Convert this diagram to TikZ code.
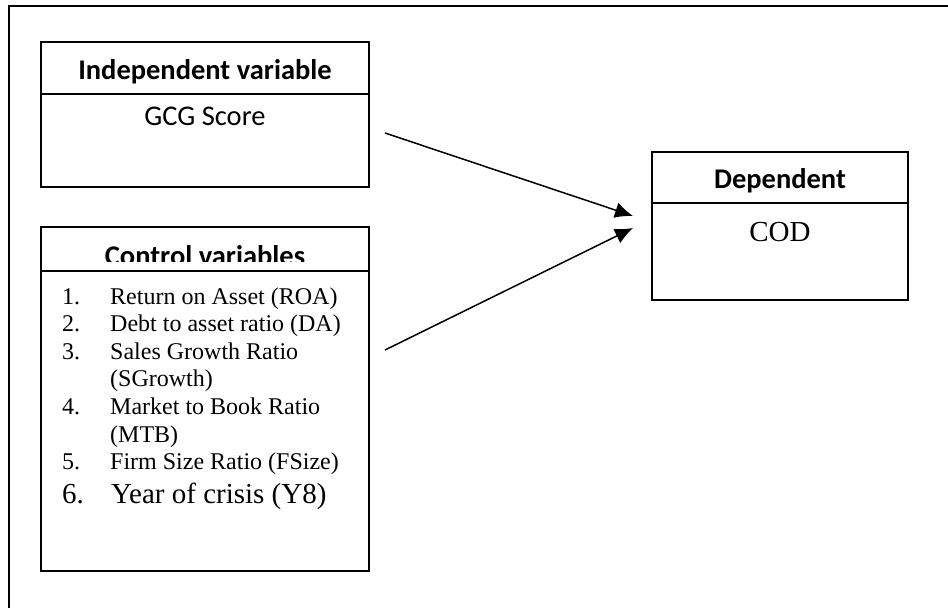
\documentclass[tikz,border=0pt]{standalone}
\usepackage{fontspec}
\setmainfont{Liberation Serif}
\newfontfamily\calibri{Carlito}
\usetikzlibrary{arrows.meta}

\tikzset{
  box/.style={draw,line width=1.5bp,rectangle,inner sep=0pt},
  headtext/.style={font=\calibri\bfseries\fontsize{28.5bp}{30bp}\selectfont,anchor=base,inner sep=0pt},
  bodytext/.style={font=\calibri\fontsize{28.5bp}{30bp}\selectfont,anchor=base,inner sep=0pt},
  listtext/.style={font=\fontsize{24bp}{27bp}\selectfont,anchor=base west,inner sep=0pt},
  bigtext/.style={font=\fontsize{29bp}{32bp}\selectfont,anchor=base west,inner sep=0pt},
  link/.style={->,line width=1.5bp},
}

\begin{document}
\begin{tikzpicture}[>={Latex[length=18bp,width=16bp]},line join=miter]
\useasboundingbox (0bp,0bp) rectangle (948bp,608bp);
%% frame
\draw [line width=2bp] (948bp,602bp) -| (8.5bp,0bp);
%% boxes
\node (indep_head) at (205bp,540bp) [box,minimum width=328bp,minimum height=52bp] {};
  \node (indep_body) at (205bp,467.5bp) [box,minimum width=328bp,minimum height=93bp] {};
  \node (ctrl_head) at (205bp,359bp) [box,minimum width=328bp,minimum height=44bp] {};
  \node (ctrl_body) at (205bp,187bp) [box,minimum width=328bp,minimum height=300bp] {};
  \node (dep_head) at (780bp,430.5bp) [box,minimum width=256bp,minimum height=51bp] {};
  \node (dep_body) at (780bp,356.5bp) [box,minimum width=256bp,minimum height=97bp] {};
%% texts
\node (indep_title) at (205bp,528bp) [headtext] {Independent variable};
  \node (indep_gcg) at (205bp,482bp) [bodytext] {GCG Score};
  \begin{scope}
    \clip (41bp,346bp) rectangle (369bp,381bp);
    \node (ctrl_title) at (205bp,342bp) [headtext] {Control variables};
  \end{scope}
  \node (dep_title) at (780bp,419bp) [headtext] {Dependent};
  \node (dep_cod) at (780bp,366bp) [anchor=base,inner sep=0pt,font=\fontsize{29bp}{32bp}\selectfont] {COD};
%% control list
\foreach \num/\txt/\y in {1./Return on Asset (ROA)/303,2./Debt to asset ratio (DA)/276,
    3./Sales Growth Ratio/248,/(SGrowth)/221,4./Market to Book Ratio/193,/(MTB)/165,
    5./Firm Size Ratio (FSize)/138}{
  \node (num_\y) at (62bp,\y bp) [listtext] {\num};
  \node (item_\y) at (110bp,\y bp) [listtext] {\txt};
}
  \node (num_104) at (62bp,104bp) [bigtext] {6.};
  \node (item_104) at (111bp,104bp) [bigtext] {Year of crisis (Y8)};
%% arrows
\coordinate (gcg_out) at (385bp,475bp);
  \coordinate (ctrl_out) at (385bp,258bp);
  \coordinate (cod_in_a) at (633bp,392bp);
  \coordinate (cod_in_b) at (633bp,380bp);
  \draw [link] (gcg_out) -- (cod_in_a);
  \draw [link] (ctrl_out) -- (cod_in_b);
%
\end{tikzpicture}
\end{document}
